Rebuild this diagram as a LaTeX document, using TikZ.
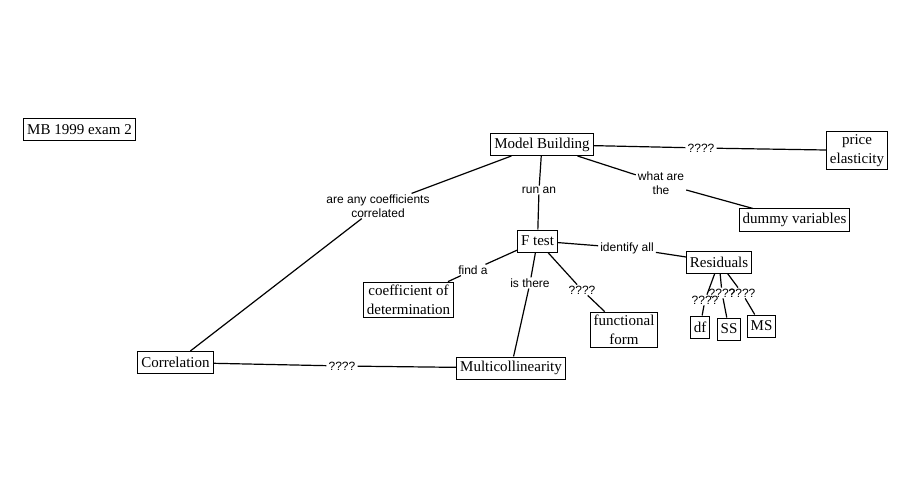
\documentclass[tikz,border=0pt]{standalone}
\usepackage{fontspec}
\newfontfamily\boxserif{Liberation Serif}
\newfontfamily\labsans{Liberation Sans}
\tikzset{
  box/.style={draw, line width=1pt, font=\boxserif\fontsize{15}{19}\selectfont, inner xsep=3.5pt, inner ysep=3pt, minimum height=22pt, align=center},
  lab/.style={font=\labsans\fontsize{12}{14}\selectfont, inner xsep=2pt, inner ysep=1pt, align=center},
  conn/.style={line width=1.2pt}
}
\begin{document}
\begin{tikzpicture}[x=1pt,y=-1pt]
\useasboundingbox[fill=white] (0,0) rectangle (911,500);
% concept boxes
\node[box] (title) at (79.5,129.5) {MB 1999 exam 2};
\node[box] (mb) at (542,144.5) {Model Building};
\node[box] (pe) at (857,150.5) {price\\elasticity};
\node[box] (dv) at (794.5,220) {dummy variables};
\node[box] (ft) at (537.5,241) {F test};
\node[box] (res) at (719,262) {Residuals};
\node[box] (cod) at (408.5,300) {coefficient of\\determination};
\node[box] (ff) at (624,330) {functional\\form};
\node[box] (df) at (700,327) {df};
\node[box] (ss) at (729,329) {SS};
\node[box] (ms) at (761.5,326) {MS};
\node[box] (corr) at (175.5,362.5) {Correlation};
\node[box] (multi) at (511,368) {Multicollinearity};
% link labels
\node[lab] (l1) at (378,206) {are any coefficients\\correlated};
\node[lab] (l2) at (539,190) {run an};
\node[lab] (l3) at (661,183) {what are\\the};
\node[lab] (l4) at (701,148) {????};
\node[lab] (l5) at (473,270) {find a};
\node[lab] (l6) at (530,283) {is there};
\node[lab] (l7) at (582,290) {????};
\node[lab] (l8) at (627,248) {identify all};
\node[lab] (l9) at (705,300) {????};
\node[lab] (l10) at (722,293) {????};
\node[lab] (l11) at (742,293) {????};
\node[lab] (l12) at (342,366) {????};
% connectors
\draw[conn] (mb) -- (l1) -- (corr);
\draw[conn] (mb) -- (l2) -- (ft);
\draw[conn] (mb) -- (l3) -- (dv);
\draw[conn] (mb) -- (l4) -- (pe);
\draw[conn] (ft) -- (l5) -- (cod);
\draw[conn] (ft) -- (l6) -- (multi);
\draw[conn] (ft) -- (l7) -- (ff);
\draw[conn] (ft) -- (l8) -- (res);
\draw[conn] (res) -- (l9) -- (df);
\draw[conn] (res) -- (l10) -- (ss);
\draw[conn] (res) -- (l11) -- (ms);
\draw[conn] (corr) -- (l12) -- (multi);
\end{tikzpicture}
\end{document}
